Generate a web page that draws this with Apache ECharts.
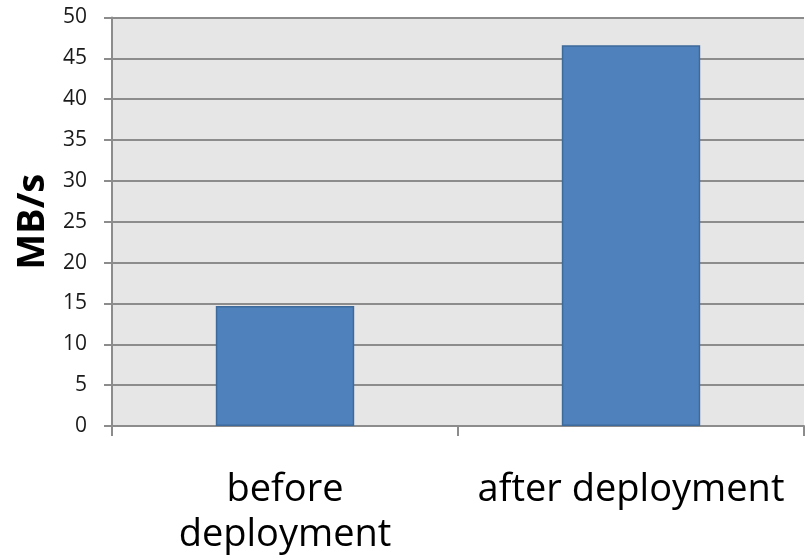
<!DOCTYPE html>
<html>
<head>
<meta charset="utf-8">
<script src="https://cdn.jsdelivr.net/npm/echarts@6/dist/echarts.min.js"></script>
<style>
  html, body { margin: 0; padding: 0; background: #ffffff; }
  #chart { width: 805px; height: 560px; }
</style>
</head>
<body>
<div id="chart"></div>
<script>
// Throughput before and after deployment
const categories = ['before\ndeployment', 'after deployment'];
const throughput = [14.7, 46.6];
const yTicks = { min: 0, max: 50, interval: 5 };
const yAxisTitle = 'MB/s';

const font = '"Open Sans", "DejaVu Sans", sans-serif';
const gridColor = '#8c8c8c';

const chart = echarts.init(document.getElementById('chart'));
chart.setOption({
  animation: false,
  grid: { left: 112, right: 1, top: 17.5, bottom: 134, show: true, backgroundColor: '#e6e6e6', borderWidth: 0 },
  xAxis: {
    type: 'category',
    data: categories,
    axisLine: { show: true, lineStyle: { color: gridColor, width: 2 } },
    axisTick: { show: true, interval: 0, length: 10, alignWithLabel: false, lineStyle: { color: gridColor, width: 2 } },
    axisLabel: {
      interval: 0, hideOverlap: false,
      fontFamily: font, fontSize: 38, color: '#000000', margin: 42, lineHeight: 45
    }
  },
  yAxis: {
    type: 'value',
    min: yTicks.min, max: yTicks.max, interval: yTicks.interval,
    name: yAxisTitle,
    nameLocation: 'middle',
    nameGap: 57,
    nameTextStyle: { fontFamily: font, fontSize: 38, fontWeight: 'bold', color: '#000000' },
    axisLine: { show: true, lineStyle: { color: gridColor, width: 2 } },
    axisTick: { show: true, length: 8, lineStyle: { color: gridColor, width: 2 } },
    axisLabel: { fontFamily: font, fontSize: 21, color: '#1a1a1a', margin: 25 },
    splitLine: { show: true, lineStyle: { color: gridColor, width: 2 } }
  },
  series: [{
    type: 'bar',
    data: throughput,
    barWidth: '40%',
    itemStyle: { color: '#4f81bd', borderColor: '#3e6a9b', borderWidth: 1.5 }
  }]
});
</script>
</body>
</html>
